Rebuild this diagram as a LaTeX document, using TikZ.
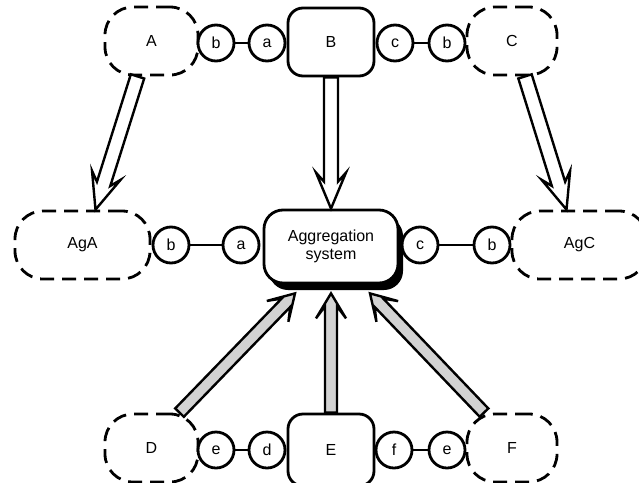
\documentclass[tikz,border=0pt]{standalone}
\usepackage{fontspec}
\setmainfont{Liberation Sans}
\usetikzlibrary{calc,shadows}

\tikzset{
  agent/.style={draw, dash pattern=on 14pt off 8pt, line width=2.8pt,
    rounded corners=28pt, minimum height=68pt, inner sep=0pt},
  port/.style={draw, circle, fill=white, line width=2.8pt,
    minimum size=36pt, inner sep=0pt},
  sysbox/.style={draw, fill=white, line width=2.8pt, rounded corners=15pt,
    minimum width=86pt, minimum height=68pt, inner sep=0pt},
  aggbox/.style={sysbox, minimum width=134pt, minimum height=73pt,
    rounded corners=19pt, align=center,
    drop shadow={shadow xshift=5pt, shadow yshift=-7pt, fill=black, opacity=1}},
  link/.style={line width=2.8pt},
  arrowline/.style={line width=2.4pt, line join=miter}
}

% hollow arrow: shaft and swept head drawn as one outline
\def\shaftw{7pt}\def\headl{36pt}\def\headj{27pt}\def\headw{15pt}
\newcommand{\fatarrow}[3][white]{%
  \path (#2) coordinate (s) (#3) coordinate (t);
  \draw[arrowline, fill=#1]
    ($(s)!\shaftw!90:(t)$) -- ($($(t)!\headj!(s)$)!\shaftw!-90:(s)$)
    -- ($($(t)!\headl!(s)$)!\headw!-90:(s)$) -- (t)
    -- ($($(t)!\headl!(s)$)!\headw!90:(s)$)
    -- ($($(t)!\headj!(s)$)!\shaftw!90:(s)$)
    -- ($(s)!\shaftw!-90:(t)$) -- cycle;
}

\begin{document}
\begin{tikzpicture}[x=1pt, y=-1pt, font=\fontsize{16}{18}\selectfont]
  \useasboundingbox (0,0) rectangle (639,482);

  % agents
  \node[agent, minimum width=93pt] (A) at (151.5,41) {A};
  \node[agent, minimum width=90pt] (C) at (512,41) {C};
  \node[agent, minimum width=135pt] (AgA) at (82.5,245) {AgA};
  \node[agent, minimum width=135pt] (AgC) at (579.5,245) {AgC};
  \node[agent, minimum width=93pt] (D) at (151.5,448) {D};
  \node[agent, minimum width=90pt] (F) at (512,448) {F};

  % ports
  \node[port] (Ab) at (216,43) {b};
  \node[port] (Ba) at (267,43) {a};
  \node[port] (Bc) at (395,43) {c};
  \node[port] (Cb) at (447,43) {b};
  \node[port] (AgAb) at (171,245) {b};
  \node[port] (Agga) at (241,245) {a};
  \node[port] (Aggc) at (420,245) {c};
  \node[port] (AgCb) at (492,245) {b};
  \node[port] (De) at (216,450) {e};
  \node[port] (Ed) at (267,450) {d};
  \node[port] (Ef) at (394,450) {f};
  \node[port] (Fe) at (447,450) {e};

  \draw[link] (Ab) -- (Ba);
  \draw[link] (Bc) -- (Cb);
  \draw[link] (AgAb) -- (Agga);
  \draw[link] (Aggc) -- (AgCb);
  \draw[link] (De) -- (Ed);
  \draw[link] (Ef) -- (Fe);

  % systems
  \node[sysbox] (B) at (331,42) {B};
  \node[sysbox, minimum height=72pt] (E) at (331,450) {E};
  \node[aggbox] (Agg) at (331,246.5) {Aggregation\\system};

  % white arrows: agents into their aggregated agents
  \fatarrow{[xshift=-14pt]A.south}{[xshift=13pt]AgA.north}
  \fatarrow{B.south}{Agg.north}
  \fatarrow{[xshift=13pt]C.south}{[xshift=-13pt]AgC.north}

  % grey arrows from the bottom row
  \def\shaftw{6pt}\def\headl{25pt}\def\headj{13pt}
  \fatarrow[gray!35]{[xshift=28pt]D.north}{[xshift=-36pt,yshift=-9pt]Agg.south}
  \fatarrow[gray!35]{E.north}{[yshift=-9pt]Agg.south}
  \fatarrow[gray!35]{[xshift=-28pt]F.north}{[xshift=39pt,yshift=-9pt]Agg.south}
\end{tikzpicture}
\end{document}
